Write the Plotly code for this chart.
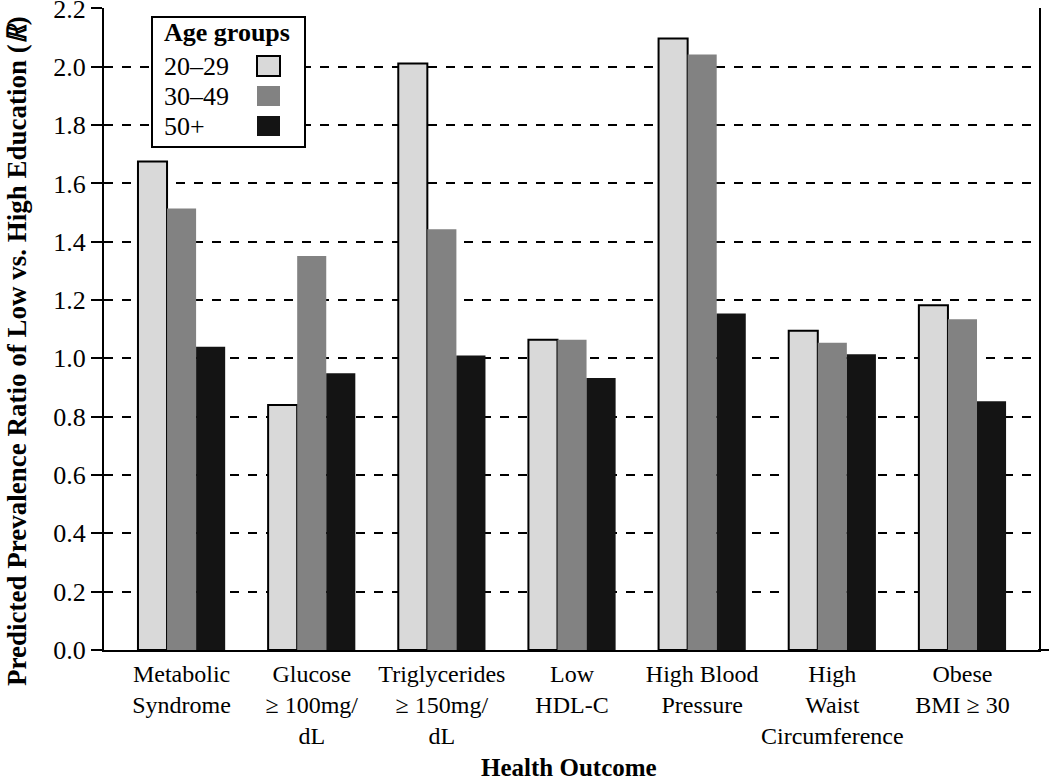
import plotly.graph_objects as go

# ---- data ----
categories = ["Metabolic Syndrome", "Glucose ≥100mg/dL", "Triglycerides ≥150mg/dL",
              "Low HDL-C", "High Blood Pressure", "High Waist Circumference", "Obese BMI ≥ 30"]
tick_labels = ["Metabolic<br>Syndrome", "Glucose<br>≥ 100mg/<br>dL", "Triglycerides<br>≥ 150mg/<br>dL",
               "Low<br>HDL-C", "High Blood<br>Pressure", "High<br>Waist<br>Circumference", "Obese<br>BMI ≥ 30"]
age_groups = ["20–29", "30–49", "50+"]
ratio_20_29 = [1.675, 0.840, 2.011, 1.064, 2.097, 1.095, 1.182]
ratio_30_49 = [1.514, 1.351, 1.443, 1.064, 2.042, 1.054, 1.134]
ratio_50_plus = [1.040, 0.949, 1.010, 0.933, 1.154, 1.014, 0.853]
y_tick_vals = [0.0, 0.2, 0.4, 0.6, 0.8, 1.0, 1.2, 1.4, 1.6, 1.8, 2.0, 2.2]
y_tick_text = ["0.0", "0.2", "0.4", "0.6", "0.8", "1.0", "1.2", "1.4", "1.6", "1.8", "2.0", "2.2"]

series = [ratio_20_29, ratio_30_49, ratio_50_plus]
fills = ["#d9d9d9", "#828282", "#141414"]
line_w = [2, 0, 0]

SERIF = "Liberation Serif, Times New Roman, serif"

fig = go.Figure()
for name, vals, col, lw in zip(age_groups, series, fills, line_w):
    fig.add_trace(go.Bar(
        x=categories, y=vals, name=name,
        marker=dict(color=col, line=dict(color="#000000", width=lw)),
        showlegend=False,
    ))

# ---- layout geometry (pixels) ----
W, H = 1050, 781
ml, mr, mt, mb = 104, 11, 8, 131
pw, ph = W - ml - mr, H - mt - mb


def px(x):
    return (x - ml) / pw


def py(y):
    return (H - mb - y) / ph


# ---- custom legend (text left, swatch right) ----
shapes = [dict(type="rect", xref="paper", yref="paper",
               x0=px(152), x1=px(305), y0=py(147), y1=py(17),
               fillcolor="white", line=dict(color="black", width=2), layer="above")]
annotations = [dict(text="<b>Age groups</b>", xref="paper", yref="paper",
                    x=px(162), y=py(32), xanchor="left", yanchor="middle",
                    showarrow=False, font=dict(family=SERIF, size=26, color="black"))]
item_y = [66, 96, 126]
for name, col, lw, cy in zip(age_groups, fills, line_w, item_y):
    annotations.append(dict(text=name, xref="paper", yref="paper",
                            x=px(162), y=py(cy), xanchor="left", yanchor="middle",
                            showarrow=False, font=dict(family=SERIF, size=26, color="black")))
    shapes.append(dict(type="rect", xref="paper", yref="paper",
                       x0=px(257), x1=px(280), y0=py(cy + 10), y1=py(cy - 10),
                       fillcolor=col, line=dict(color="black", width=lw), layer="above"))

# x axis line running a little past the right frame, as in the reference
shapes.append(dict(type="line", xref="paper", yref="paper",
                   x0=px(1038), x1=px(1049), y0=0, y1=0,
                   line=dict(color="black", width=2)))

# axis titles as annotations
annotations.append(dict(text="<b>Predicted Prevalence Ratio of Low vs. High Education (<i>ℝ</i>)</b>",
                        xref="paper", yref="paper", x=px(17), y=py(351), textangle=-90,
                        xanchor="center", yanchor="middle", showarrow=False,
                        font=dict(family=SERIF, size=27, color="black")))
annotations.append(dict(text="<b>Health Outcome</b>", xref="paper", yref="paper",
                        x=px(569), y=py(767), xanchor="center", yanchor="middle",
                        showarrow=False, font=dict(family=SERIF, size=25, color="black")))

fig.update_layout(
    width=W, height=H,
    margin=dict(l=ml, r=mr, t=mt, b=mb, autoexpand=False),
    paper_bgcolor="white", plot_bgcolor="white",
    barmode="group", bargap=0.33, bargroupgap=0,
    font=dict(family=SERIF, color="black"),
    shapes=shapes, annotations=annotations,
    xaxis=dict(
        type="category", range=[-0.596, 6.588], automargin=False,
        tickvals=categories, ticktext=tick_labels,
        ticks="", showline=True, linecolor="black", linewidth=2,
        showgrid=False, tickfont=dict(family=SERIF, size=24, color="black"),
        ticklabelstandoff=1,
    ),
    yaxis=dict(
        range=[0, 2.2015], automargin=False, tickvals=y_tick_vals, ticktext=y_tick_text,
        ticks="outside", ticklen=11, tickwidth=2, tickcolor="black",
        showline=True, linecolor="black", linewidth=2, mirror=True,
        showgrid=True, gridcolor="black", gridwidth=2, griddash="9px,9px",
        zeroline=False, tickfont=dict(family=SERIF, size=26, color="black"),
        ticklabelstandoff=0, ticklabeloverflow="allow",
    ),
)

fig.write_html("out.html", config={"displayModeBar": False},
               post_script="document.body.style.margin='0';")
